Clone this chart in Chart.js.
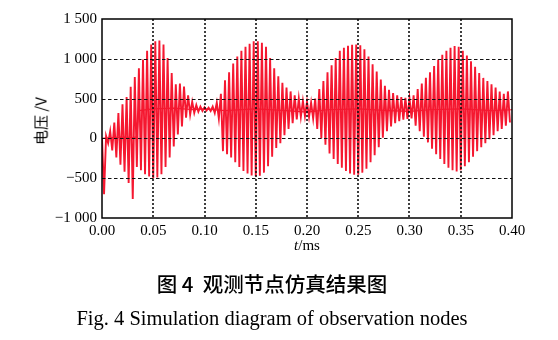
<!DOCTYPE html>
<html>
<head>
<meta charset="utf-8">
<script src="https://cdn.jsdelivr.net/npm/chart.js@4/dist/chart.umd.min.js"></script>
<style>
  html, body { margin: 0; padding: 0; background: #fff; }
  #wrap { position: relative; width: 558px; height: 340px; overflow: hidden; }
  #c { position: absolute; left: 0; top: 0; }
  .lbl { position: absolute; white-space: nowrap; color: #000; transform: translate(-50%, -50%); line-height: 1; }
  #ytitle { left: 40px; top: 121px; font: 15px "Noto Sans CJK SC", sans-serif; transform: translate(-50%, -50%) rotate(-90deg); }
  #xtitle { left: 307px; top: 245px; font: 15px "Liberation Serif", serif; }
  #capCn { left: 272px; top: 283px; font: 500 20.5px "Noto Sans CJK SC", sans-serif; }
  #capEn { left: 272px; top: 318px; font: 20.5px "Liberation Serif", serif; }
</style>
</head>
<body>
<div id="wrap">
  <canvas id="c" width="558" height="340"></canvas>
  <div class="lbl" id="ytitle">电压 /V</div>
  <div class="lbl" id="xtitle"><i>t</i>/ms</div>
  <div class="lbl" id="capCn">图 4&nbsp;&nbsp;观测节点仿真结果图</div>
  <div class="lbl" id="capEn">Fig. 4 Simulation diagram of observation nodes</div>
</div>
<script>
// Voltage at the observation node, sampled at successive oscillation extremes.
// Positive-going peaks occur at t = 0, 0.004, 0.008 ... ms,
// negative-going troughs half a period later (t = 0.002, 0.006 ... ms).
const samplePeriod = 0.004; // ms
const upperPeaks = [
  0, 30, 90, 200, 320, 430, 520, 650, 770, 880,
  990, 1100, 1180, 1220, 1230, 1180, 1010, 820, 680, 690,
  650, 540, 460, 420, 400, 390, 385, 400, 450, 560,
  730, 830, 940, 1030, 1100, 1150, 1190, 1220, 1220, 1200,
  1150, 1010, 880, 780, 700, 640, 590, 540, 500, 470,
  460, 450, 500, 620, 720, 830, 920, 1010, 1100, 1140,
  1165, 1175, 1180, 1170, 1120, 1030, 930, 840, 740, 660,
  610, 570, 540, 520, 510, 500, 540, 620, 690, 760,
  830, 910, 990, 1050, 1100, 1140, 1160, 1150, 1100, 1040,
  970, 900, 820, 760, 720, 680, 640, 590, 560, 590
];
const lowerPeaks = [
  -700, -60, -150, -240, -330, -420, -560, -760, -360, -400,
  -450, -480, -500, -490, -450, -360, -240, -100, 50, 150,
  260, 300, 320, 335, 345, 350, 345, 320, 250, -160,
  -200, -240, -300, -360, -410, -440, -465, -475, -470, -430,
  -350, -230, -120, -60, 40, 120, 190, 240, 270, 280,
  270, 250, 120, 0, -80, -190, -260, -320, -370, -410,
  -440, -455, -455, -430, -380, -300, -210, -110, 10, 90,
  150, 190, 215, 235, 245, 250, 160, 90, 20, -50,
  -130, -200, -260, -320, -370, -400, -415, -400, -350, -300,
  -230, -160, -110, -60, -10, 40, 90, 120, 160, 200
];

// Slowly varying centre trace of the waveform
const meanTimes = [0, 0.01, 0.02, 0.03, 0.034, 0.036, 0.05, 0.07, 0.09, 0.10, 0.12, 0.15, 0.18, 0.20, 0.22, 0.25, 0.28, 0.30, 0.32, 0.35, 0.38, 0.40];
const meanVolts = [0, 10, 15, 10, 20, 350, 370, 380, 360, 370, 350, 370, 350, 330, 360, 370, 350, 340, 360, 370, 350, 360];

// Axis ticks
const xTicks = [0, 0.05, 0.10, 0.15, 0.20, 0.25, 0.30, 0.35, 0.40];
const yTicks = [-1000, -500, 0, 500, 1000, 1500];

const waveColor = 'rgb(245, 24, 48)';

const wave = [];
upperPeaks.forEach((v, i) => {
  wave.push({ x: i * samplePeriod, y: v });
  wave.push({ x: i * samplePeriod + samplePeriod / 2, y: lowerPeaks[i] });
});
const meanTrace = meanTimes.map((t, i) => ({ x: t, y: meanVolts[i] }));

function fmtVolt(v) {
  const a = Math.abs(v);
  let s = a >= 1000 ? Math.floor(a / 1000) + ' ' + String(a % 1000).padStart(3, '0') : String(a);
  return (v < 0 ? '\u2212' : '') + s;
}

// Dotted/dashed grid and frame drawn over the waveform
const overlayGrid = {
  id: 'overlayGrid',
  afterDatasetsDraw(chart) {
    const { ctx, chartArea: { left, right, top, bottom }, scales: { x, y } } = chart;
    ctx.save();
    ctx.strokeStyle = '#111';
    ctx.lineWidth = 1.6;
    ctx.setLineDash([2, 2]);
    xTicks.slice(1, -1).forEach(t => {
      const px = Math.round(x.getPixelForValue(t));
      ctx.beginPath();
      ctx.moveTo(px, top);
      ctx.lineTo(px, bottom);
      ctx.stroke();
    });
    ctx.lineWidth = 1;
    ctx.setLineDash([3.5, 2.5]);
    yTicks.slice(1, -1).forEach(v => {
      const py = Math.round(y.getPixelForValue(v)) + 0.5;
      ctx.beginPath();
      ctx.moveTo(left, py);
      ctx.lineTo(right, py);
      ctx.stroke();
    });
    ctx.setLineDash([]);
    ctx.lineWidth = 1.5;
    ctx.strokeStyle = '#000';
    ctx.strokeRect(left, top, right - left, bottom - top);
    ctx.restore();
  }
};

const tickFont = { family: '"Liberation Serif", serif', size: 15 };

new Chart(document.getElementById('c'), {
  type: 'line',
  data: {
    datasets: [
      { data: meanTrace, borderColor: waveColor, borderWidth: 1.2, pointRadius: 0, tension: 0, fill: false },
      { data: wave, borderColor: waveColor, borderWidth: 1.9, pointRadius: 0, tension: 0, fill: false, borderJoinStyle: 'miter' }
    ]
  },
  options: {
    responsive: false,
    animation: false,
    devicePixelRatio: 1,
    layout: { padding: { top: 19, right: 46, left: 0, bottom: 0 } },
    plugins: { legend: { display: false }, tooltip: { enabled: false } },
    scales: {
      x: {
        type: 'linear',
        min: 0, max: 0.4,
        afterBuildTicks: s => { s.ticks = xTicks.map(v => ({ value: v })); },
        afterFit: s => { s.height = 122; },
        ticks: { callback: v => v.toFixed(2), font: tickFont, color: '#000', padding: 4, maxRotation: 0, autoSkip: false },
        grid: { display: false, drawTicks: false },
        border: { display: false }
      },
      y: {
        min: -1000, max: 1500,
        afterBuildTicks: s => { s.ticks = yTicks.map(v => ({ value: v })); },
        afterFit: s => { s.width = 102; },
        ticks: { callback: v => fmtVolt(v), font: tickFont, color: '#000', padding: 5 },
        grid: { display: false, drawTicks: false },
        border: { display: false }
      }
    }
  },
  plugins: [overlayGrid]
});
</script>
</body>
</html>
